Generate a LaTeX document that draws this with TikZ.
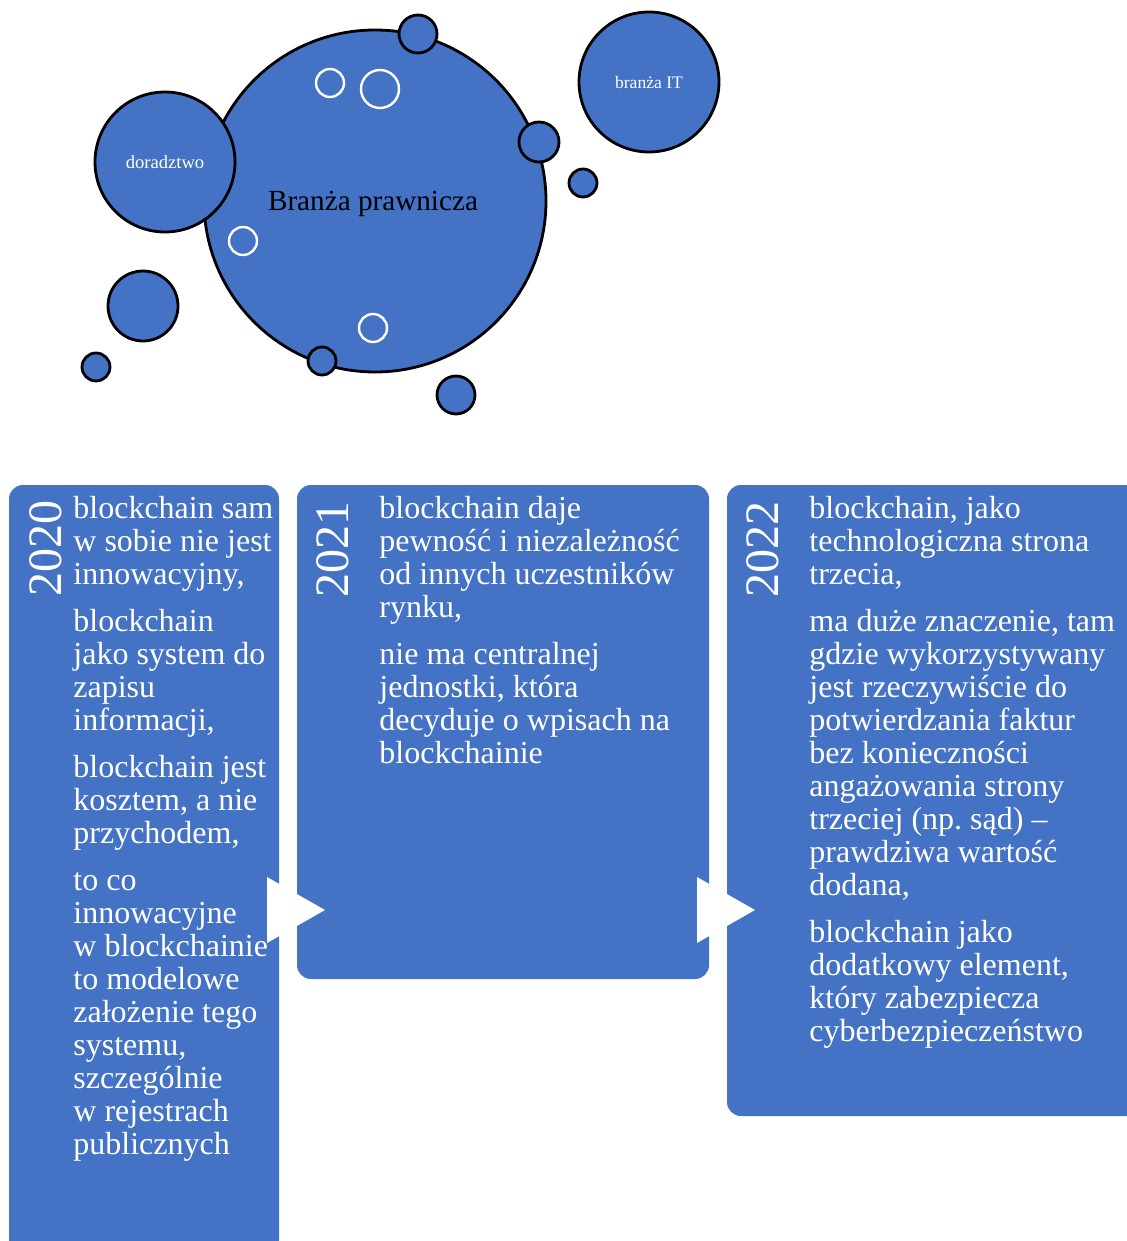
\documentclass[tikz,border=0pt]{standalone}
\usepackage{fontspec}
\setmainfont{Liberation Serif}
\definecolor{accent}{HTML}{4472C4}
\frenchspacing

\begin{document}
\begin{tikzpicture}[x=0.5pt,y=-0.5pt,
  bubble/.style={circle,fill=accent,draw=black,line width=1.4pt,inner sep=0pt},
  ring/.style={draw=white,line width=1.2pt},
  panel/.style={fill=accent,rounded corners=7pt},
  entry/.style={text=white,align=left,inner sep=0pt,anchor=north west,font=\fontsize{16}{16.5}\selectfont},
  year/.style={text=white,rotate=90,inner sep=0pt,font=\fontsize{24}{24}\selectfont}]
\useasboundingbox (0,0) rectangle (1127,1241);

% bubbles
\node[bubble,minimum size=171pt] (legal) at (375,201) {};
\node[font=\fontsize{14.6}{16}\selectfont] (legaltxt) at (373,204) {Branża prawnicza};
\foreach \x/\y/\r in {418/34/19, 539/142/20, 583/183/14, 143/306/35, 96/367/14, 322/361/14, 456/395/19}
  \draw[fill=accent,draw=black,line width=1.4pt] (\x,\y) circle[radius=\r];
\foreach \x/\y/\r in {330/83/14, 380/89/19, 243/241/14, 373/328/14}
  \draw[ring] (\x,\y) circle[radius=\r];
\node[bubble,minimum size=70pt,text=white,font=\fontsize{9.3}{10}\selectfont] (advice) at (165,162) {doradztwo};
\node[bubble,minimum size=70pt,text=white,font=\fontsize{8.8}{10}\selectfont] (it) at (649,82) {branża IT};

% timeline panels
\fill[panel] (9,485) rectangle (279,1254);
\fill[panel] (297,485) rectangle (709,979);
\fill[panel] (727,485) rectangle (1140,1116);

\node[year] (y20) at (46,548) {2020};
\node[year] (y21) at (333,549) {2021};
\node[year] (y22) at (763,549) {2022};

\node[entry] (t20) at (73,496) {blockchain sam\\ w sobie nie jest\\ innowacyjny,\\[7pt]
  blockchain\\ jako system do\\ zapisu\\ informacji,\\[7pt]
  blockchain jest\\ kosztem, a nie\\ przychodem,\\[7pt]
  to co\\ innowacyjne\\ w blockchainie\\ to modelowe\\ założenie tego\\ systemu,\\ szczególnie\\ w rejestrach\\ publicznych};
\node[entry] (t21) at (379,496) {blockchain daje\\ pewność i niezależność\\ od innych uczestników\\ rynku,\\[7pt]
  nie ma centralnej\\ jednostki, która\\ decyduje o wpisach na\\ blockchainie};
\node[entry] (t22) at (809,496) {blockchain, jako\\ technologiczna strona\\ trzecia,\\[7pt]
  ma duże znaczenie, tam\\ gdzie wykorzystywany\\ jest rzeczywiście do\\ potwierdzania faktur\\ bez konieczności\\ angażowania strony\\ trzeciej (np. sąd) –\\ prawdziwa wartość\\ dodana,\\[7pt]
  blockchain jako\\ dodatkowy element,\\ który zabezpiecza\\ cyberbezpieczeństwo};

% arrows between panels
\fill[white] (267,877) -- (325,910) -- (267,943) -- cycle;
\fill[white] (697,877) -- (755,910) -- (697,943) -- cycle;
\end{tikzpicture}
\end{document}
